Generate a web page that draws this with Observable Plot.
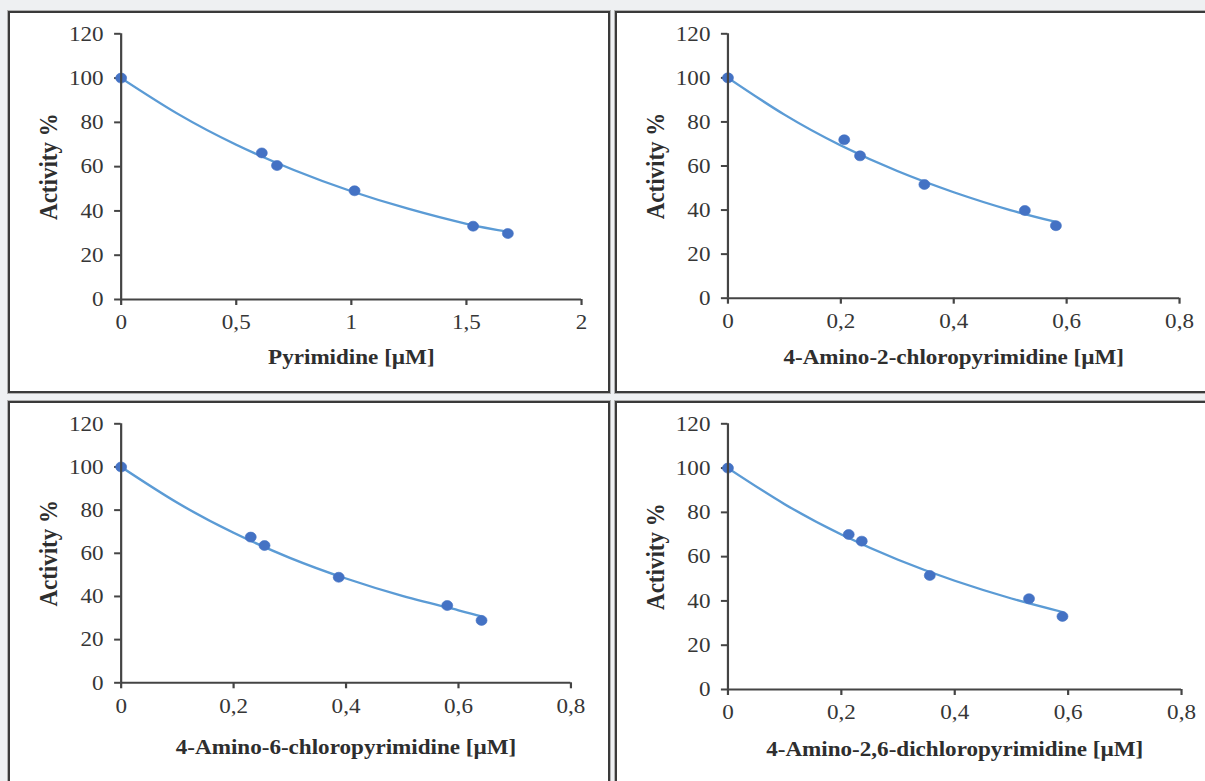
<!DOCTYPE html>
<html><head><meta charset="utf-8">
<script src="https://cdn.jsdelivr.net/npm/d3@7"></script>
<script src="https://cdn.jsdelivr.net/npm/@observablehq/plot@0.6"></script>
<style>
html,body{margin:0;padding:0}
body{background:#eef0f2;width:1205px;height:781px;overflow:hidden;position:relative;font-family:"Liberation Serif","Times New Roman",serif}
.panel{position:absolute;box-sizing:border-box;border:2px solid #3a3a3a;background:#fff;overflow:hidden;box-shadow:0 0 0 1px #b0b0b0}
.panel svg{position:absolute;left:0;top:0;transform-origin:0 0}
</style></head><body>
<div id="p1" class="panel" style="left:8px;top:11px;width:602px;height:382px"></div>
<div id="p2" class="panel" style="left:615px;top:11px;width:600px;height:382px"></div>
<div id="p3" class="panel" style="left:8px;top:401px;width:602px;height:392px"></div>
<div id="p4" class="panel" style="left:615px;top:401px;width:600px;height:392px"></div>
<script>
// ---- data ----
const yTicks = [0, 20, 40, 60, 80, 100, 120];
const yLabel = "Activity %";

const pyrLabel = "Pyrimidine [µM]";
const pyrTicks = [0, 0.5, 1, 1.5, 2];
const pyrConc = [0, 0.611, 0.677, 1.014, 1.529, 1.68];
const pyrAct = [100, 66.2, 60.5, 49.1, 33.1, 29.8];
const pyrTrendX = [0, 0.25, 0.5, 0.75, 1, 1.25, 1.5, 1.68];
const pyrTrendY = [100, 83.6, 69.9, 58.5, 48.9, 40.9, 34.2, 30.6];

const a2Label = "4-Amino-2-chloropyrimidine [µM]";
const a2Ticks = [0, 0.2, 0.4, 0.6, 0.8];
const a2Conc = [0, 0.206, 0.234, 0.348, 0.526, 0.581];
const a2Act = [100, 71.9, 64.6, 51.6, 39.8, 32.9];
const a2TrendX = [0, 0.1, 0.2, 0.3, 0.4, 0.5, 0.581];
const a2TrendY = [100, 83.3, 69.3, 57.7, 48.1, 40.0, 34.6];

const a6Label = "4-Amino-6-chloropyrimidine [µM]";
const a6Ticks = [0, 0.2, 0.4, 0.6, 0.8];
const a6Conc = [0, 0.2305, 0.255, 0.387, 0.58, 0.641];
const a6Act = [100, 67.5, 63.6, 48.9, 35.8, 28.9];
const a6TrendX = [0, 0.1, 0.2, 0.3, 0.4, 0.5, 0.6, 0.641];
const a6TrendY = [100, 83.4, 69.5, 57.9, 48.3, 40.3, 33.6, 30.8];

const a26Label = "4-Amino-2,6-dichloropyrimidine [µM]";
const a26Ticks = [0, 0.2, 0.4, 0.6, 0.8];
const a26Conc = [0, 0.213, 0.236, 0.356, 0.531, 0.590];
const a26Act = [100, 70.0, 67.0, 51.5, 41.0, 33.0];
const a26TrendX = [0, 0.1, 0.2, 0.3, 0.4, 0.5, 0.59];
const a26TrendY = [100, 83.7, 70.0, 58.6, 49.1, 41.1, 35.0];

// ---- rendering ----
const S = 1.1; // horizontal stretch of the reference image
const fmt = d => String(d).replace(".", ",");
const zip = (xs, ys) => xs.map((x, i) => ({x, y: ys[i]}));

function panel(id, cfg) {
  const chart = Plot.plot({
    width: cfg.w / S, height: cfg.h,
    marginLeft: cfg.ml / S, marginRight: cfg.mr / S,
    marginTop: cfg.mt, marginBottom: cfg.mb,
    style: {fontFamily: '"Liberation Serif","Times New Roman",serif', fontSize: "21px", color: "#363636", background: "transparent", overflow: "visible"},
    x: {domain: [0, cfg.xmax], ticks: cfg.xticks, tickFormat: fmt, tickSize: 6, tickPadding: 9,
        label: cfg.xlabel, labelAnchor: "center", labelOffset: cfg.xlo, labelArrow: "none"},
    y: {domain: [0, 120], ticks: yTicks, tickSize: 6.5 / S, tickPadding: 11 / S,
        label: yLabel, labelAnchor: "center", labelOffset: 82 / S, labelArrow: "none"},
    marks: [
      Plot.line(zip(cfg.tx, cfg.ty), {x: "x", y: "y", curve: "natural", stroke: "#5b9bd5", strokeWidth: 2.3}),
      Plot.dot(zip(cfg.xs, cfg.ys), {x: "x", y: "y", r: 5, fill: "#4472c4", stroke: "#4472c4", strokeWidth: 0.6}),
      Plot.ruleX([0], {stroke: "#444", strokeWidth: 2}),
      Plot.ruleY([0], {stroke: "#444", strokeWidth: 2})
    ]
  });
  chart.style.transform = `scaleX(${S})`;
  chart.querySelectorAll('[aria-label="x-axis tick"], [aria-label="y-axis tick"]').forEach(g => {
    g.setAttribute("stroke", "#444"); g.setAttribute("stroke-width", "2");
  });
  chart.querySelectorAll('[aria-label="x-axis label"]').forEach(g => {
    g.setAttribute("font-weight", "bold"); g.setAttribute("fill", "#2e2e2e"); g.setAttribute("font-size", "21px");
  });
  chart.querySelectorAll('[aria-label="y-axis label"]').forEach(g => {
    g.setAttribute("font-weight", "bold"); g.setAttribute("fill", "#2e2e2e"); g.setAttribute("font-size", "23px");
  });
  document.getElementById(id).appendChild(chart);
}

panel("p1", {w: 598, h: 378, ml: 110.6, mr: 27, mt: 20.3, mb: 92, xmax: 2, xticks: pyrTicks, xlabel: pyrLabel, xlo: 65,
  xs: pyrConc, ys: pyrAct, tx: pyrTrendX, ty: pyrTrendY});
panel("p2", {w: 588, h: 378, ml: 110.4, mr: 26, mt: 20.3, mb: 93.3, xmax: 0.8, xticks: a2Ticks, xlabel: a2Label, xlo: 66,
  xs: a2Conc, ys: a2Act, tx: a2TrendX, ty: a2TrendY});
panel("p3", {w: 598, h: 378, ml: 110.6, mr: 37.6, mt: 20.3, mb: 98.7, xmax: 0.8, xticks: a6Ticks, xlabel: a6Label, xlo: 71,
  xs: a6Conc, ys: a6Act, tx: a6TrendX, ty: a6TrendY});
panel("p4", {w: 588, h: 378, ml: 110.4, mr: 24, mt: 20.3, mb: 92, xmax: 0.8, xticks: a26Ticks, xlabel: a26Label, xlo: 67,
  xs: a26Conc, ys: a26Act, tx: a26TrendX, ty: a26TrendY});
</script>
</body></html>
